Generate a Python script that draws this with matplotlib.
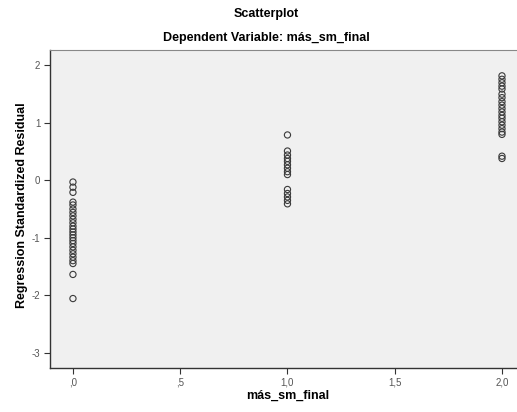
import matplotlib
matplotlib.use('Agg')
import matplotlib.pyplot as plt

plt.rcParams['font.family'] = ['Liberation Sans', 'DejaVu Sans']
plt.rcParams['axes.unicode_minus'] = False

# residuos estandarizados por grupo de más_sm_final
res_0 = [-0.03, -0.12, -0.21, -0.38, -0.43, -0.50, -0.56, -0.62, -0.68, -0.74,
         -0.80, -0.85, -0.90, -0.95, -1.00, -1.05, -1.10, -1.16, -1.22, -1.28,
         -1.34, -1.40, -1.45, -1.64, -2.06]
res_1 = [0.79, 0.51, 0.44, 0.38, 0.33, 0.27, 0.21, 0.15, 0.10,
         -0.16, -0.23, -0.29, -0.35, -0.41]
res_2 = [1.82, 1.76, 1.70, 1.64, 1.59, 1.50, 1.44, 1.37, 1.31, 1.25,
         1.19, 1.13, 1.08, 1.02, 0.96, 0.90, 0.84, 0.80, 0.42, 0.38]
x_vals = [0.0, 1.0, 2.0]
x_ticks = [0.0, 0.5, 1.0, 1.5, 2.0]
x_ticklabels = [',0', ',5', '1,0', '1,5', '2,0']
y_ticks = [2, 1, 0, -1, -2, -3]

fig = plt.figure(figsize=(5.17, 4.12), dpi=100)
ax = fig.add_axes([50/517, 1-368/412, 1-50/517, (368-50)/412])
ax.set_facecolor('#f0f0f0')

for xv, ys in zip(x_vals, [res_0, res_1, res_2]):
    ax.scatter([xv]*len(ys), ys, s=20, facecolors='none', edgecolors='#3a3a3a',
               linewidths=0.8, zorder=3)

ax.set_xlim(-0.107, 2.07)
ax.set_ylim(-3.27, 2.27)
ax.set_xticks(x_ticks)
ax.set_xticklabels(x_ticklabels)
ax.set_yticks(y_ticks)
ax.tick_params(labelsize=7, colors='#333333', length=4, width=0.8,
               labelcolor='#555555', pad=3)

for s in ['left', 'bottom']:
    ax.spines[s].set_color('#333333')
    ax.spines[s].set_linewidth(1.0)
ax.spines['top'].set_color('#888888')
ax.spines['right'].set_visible(False)

fig.text(288/517, 1-396/412, 'más_sm_final', ha='center', va='center',
         fontsize=9, fontweight='bold')
fig.text(22/517, 1-205/412, 'Regression Standardized Residual', rotation=90,
         ha='center', va='center', fontsize=9, fontweight='bold')
fig.text(266/517, 1-14/412, 'Scatterplot', ha='center', va='center',
         fontsize=9, fontweight='bold')
fig.text(266/517, 1-38/412, 'Dependent Variable: más_sm_final', ha='center',
         va='center', fontsize=9, fontweight='bold')

fig.savefig('out.png', dpi=100)
